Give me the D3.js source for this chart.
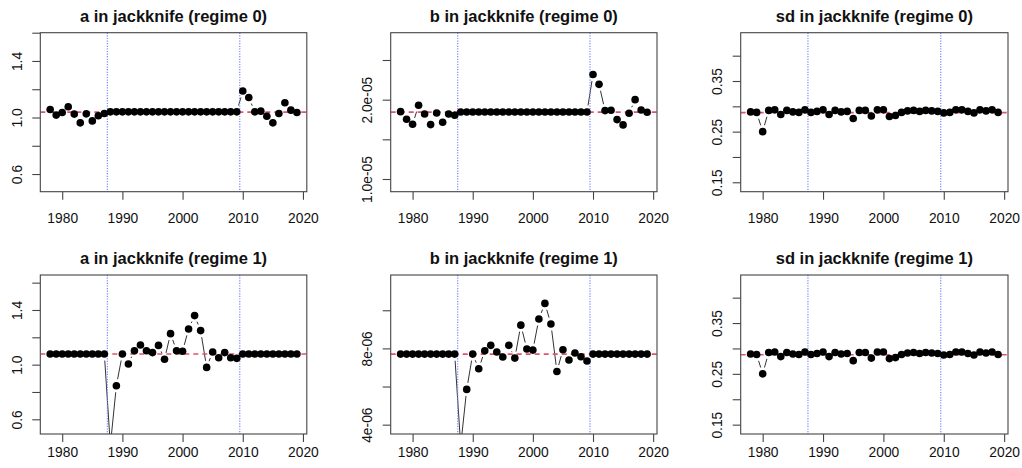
<!DOCTYPE html>
<html>
<head>
<meta charset="utf-8">
<script src="https://cdn.jsdelivr.net/npm/d3@7"></script>
<style>
  html, body { margin: 0; padding: 0; background: #fff; }
  svg { display: block; font-family: "Liberation Sans", Arial, Helvetica, sans-serif; }
</style>
</head>
<body>
<svg id="chart" width="1022" height="468"></svg>
<script>
// Jackknife estimates by left-out year
const years = [1978,1979,1980,1981,1982,1983,1984,1985,1986,1987,
  1988,1989,1990,1991,1992,1993,1994,1995,1996,1997,1998,1999,2000,
  2001,2002,2003,2004,2005,2006,2007,2008,2009,
  2010,2011,2012,2013,2014,2015,2016,2017,2018,2019];

const aRegime0 = [1.057,1.017,1.035,1.076,1.024,0.962,1.026,0.976,1.012,1.028,
  1.040,1.040,1.040,1.040,1.040,1.040,1.040,1.040,1.040,1.040,1.040,1.040,1.040,
  1.040,1.040,1.040,1.040,1.040,1.040,1.040,1.040,1.040,
  1.187,1.142,1.040,1.045,1.009,0.962,1.028,1.104,1.052,1.035];

const bRegime0 = [1.849e-5,1.753e-5,1.690e-5,1.929e-5,1.820e-5,1.686e-5,1.832e-5,1.715e-5,1.820e-5,1.803e-5,
  1.845e-5,1.845e-5,1.845e-5,1.845e-5,1.845e-5,1.845e-5,1.845e-5,1.845e-5,1.845e-5,1.845e-5,1.845e-5,1.845e-5,1.845e-5,
  1.845e-5,1.845e-5,1.845e-5,1.845e-5,1.845e-5,1.845e-5,1.845e-5,1.845e-5,1.845e-5,
  2.318e-5,2.193e-5,1.862e-5,1.866e-5,1.749e-5,1.682e-5,1.828e-5,2.000e-5,1.870e-5,1.841e-5];

const sdRegime0 = [0.289,0.288,0.250,0.292,0.293,0.284,0.292,0.289,0.288,0.293,
  0.288,0.290,0.293,0.284,0.292,0.289,0.290,0.276,0.292,0.292,0.281,0.293,0.293,
  0.280,0.282,0.288,0.291,0.292,0.290,0.292,0.291,0.290,
  0.287,0.288,0.293,0.293,0.290,0.287,0.293,0.291,0.293,0.288];

const aRegime1 = [1.078,1.078,1.078,1.078,1.078,1.078,1.078,1.078,1.078,1.078,
  0.410,0.846,1.078,1.005,1.102,1.144,1.102,1.088,1.141,1.039,1.227,1.102,1.098,
  1.261,1.359,1.249,0.980,1.093,1.051,1.088,1.051,1.046,
  1.078,1.078,1.078,1.078,1.078,1.078,1.078,1.078,1.078,1.078];

const bRegime1 = [7.70e-6,7.70e-6,7.70e-6,7.70e-6,7.70e-6,7.70e-6,7.70e-6,7.70e-6,7.70e-6,7.70e-6,
  2.90e-6,5.85e-6,7.70e-6,6.93e-6,7.88e-6,8.16e-6,7.81e-6,7.55e-6,8.16e-6,7.49e-6,9.22e-6,7.97e-6,7.91e-6,
  9.54e-6,1.036e-5,9.28e-6,6.79e-6,7.93e-6,7.39e-6,7.76e-6,7.56e-6,7.34e-6,
  7.70e-6,7.70e-6,7.70e-6,7.70e-6,7.70e-6,7.70e-6,7.70e-6,7.70e-6,7.70e-6,7.70e-6];

const sdRegime1 = [0.289,0.288,0.250,0.292,0.293,0.284,0.292,0.289,0.288,0.293,
  0.288,0.290,0.293,0.284,0.292,0.289,0.290,0.276,0.292,0.292,0.281,0.293,0.293,
  0.280,0.282,0.288,0.291,0.292,0.290,0.292,0.291,0.290,
  0.287,0.288,0.293,0.293,0.290,0.287,0.293,0.291,0.293,0.288];

// Full-sample estimates (horizontal reference lines)
const fullEstimates = [1.038, 1.843e-5, 0.2876, 1.078, 7.70e-6, 0.2876];

// Regime break positions
const regimeBreaks = [1987.5, 2009.5];

// Axis ticks
const xTicks = [1980, 1990, 2000, 2010, 2020];
const aTicks = [0.6, 0.8, 1.0, 1.2, 1.4, 1.6];
const aTickLabels = ["0.6", "", "1.0", "", "1.4", ""];
const b0Ticks = [1.0e-5, 1.5e-5, 2.0e-5, 2.5e-5];
const b0TickLabels = ["1.0e-05", "", "2.0e-05", ""];
const b1Ticks = [4e-6, 6e-6, 8e-6, 1e-5];
const b1TickLabels = ["4e-06", "", "8e-06", ""];
const sdTicks = [0.15, 0.20, 0.25, 0.30, 0.35, 0.40];
const sdTickLabels = ["0.15", "", "0.25", "", "0.35", ""];

const titles = [
  "a in jackknife (regime 0)", "b in jackknife (regime 0)", "sd in jackknife (regime 0)",
  "a in jackknife (regime 1)", "b in jackknife (regime 1)", "sd in jackknife (regime 1)"
];
const seriesList = [aRegime0, bRegime0, sdRegime0, aRegime1, bRegime1, sdRegime1];
const tickSets = [
  [aTicks, aTickLabels], [b0Ticks, b0TickLabels], [sdTicks, sdTickLabels],
  [aTicks, aTickLabels], [b1Ticks, b1TickLabels], [sdTicks, sdTickLabels]
];

// Plot regions (pixel boxes) and y ranges
const columnsX = [[40.3, 306.8], [390.7, 657.0], [740.7, 1008.0]];
const rowsY = [[32.7, 191.7], [275.0, 434.0]];
const xLabelOffset = [31, 22.7];
const yDomains = [
  [0.475, 1.600], [0.84e-5, 2.844e-5], [0.1314, 0.4454],
  [0.4925, 1.656], [3.51e-6, 1.185e-5], [0.1316, 0.4446]
];
const xDomain = [1976.36, 2020.64];

const FONT = 13.8;
const TITLE_FONT = 16.5;
const POINT_R = 3.8;
const LINE_GAP = 6.6;

const svg = d3.select("#chart");

seriesList.forEach((values, i) => {
  const row = Math.floor(i / 3);
  const [xa, xb] = columnsX[i % 3];
  const [ya, yb] = rowsY[row];
  const x = d3.scaleLinear().domain(xDomain).range([xa, xb]);
  const y = d3.scaleLinear().domain(yDomains[i]).range([yb, ya]);
  const [tv, tl] = tickSets[i];

  const g = svg.append("g");
  const clipId = "clip" + i;
  g.append("clipPath").attr("id", clipId)
    .append("rect").attr("x", xa).attr("y", ya).attr("width", xb - xa).attr("height", yb - ya);
  const plot = g.append("g").attr("clip-path", `url(#${clipId})`);

  // type "b": connecting segments broken around each point
  const pts = years.map((yr, k) => [x(yr), y(values[k])]);
  const segs = [];
  for (let k = 0; k < pts.length - 1; k++) {
    const [x0, y0] = pts[k], [x1, y1] = pts[k + 1];
    const dx = x1 - x0, dy = y1 - y0, d = Math.hypot(dx, dy);
    if (d > 2 * LINE_GAP) {
      const f = LINE_GAP / d;
      segs.push([x0 + dx * f, y0 + dy * f, x1 - dx * f, y1 - dy * f]);
    }
  }
  plot.selectAll("line.seg").data(segs).join("line").attr("class", "seg")
    .attr("x1", s => s[0]).attr("y1", s => s[1]).attr("x2", s => s[2]).attr("y2", s => s[3])
    .attr("stroke", "#333").attr("stroke-width", 1);

  // full-sample reference
  plot.append("line")
    .attr("x1", xa).attr("x2", xb)
    .attr("y1", y(fullEstimates[i])).attr("y2", y(fullEstimates[i]))
    .attr("stroke", "#DF536B").attr("stroke-width", 1.6).attr("stroke-dasharray", "5 4");

  // regime breaks
  plot.selectAll("line.brk").data(regimeBreaks).join("line").attr("class", "brk")
    .attr("x1", d => x(d)).attr("x2", d => x(d))
    .attr("y1", ya).attr("y2", yb)
    .attr("stroke", "#7a88ff").attr("stroke-width", 1.2).attr("stroke-dasharray", "1.2 1.4");

  // points
  plot.selectAll("circle").data(years).join("circle")
    .attr("cx", (yr) => x(yr)).attr("cy", (yr, k) => y(values[k]))
    .attr("r", POINT_R).attr("fill", "#000");

  // x axis
  const xAxis = g.append("g").attr("transform", `translate(0,${yb})`)
    .call(d3.axisBottom(x).tickValues(xTicks).tickFormat(d3.format("d")).tickSize(8));
  xAxis.select(".domain").remove();
  xAxis.selectAll(".tick line").attr("stroke", "#444").attr("stroke-width", 1.1);
  xAxis.selectAll(".tick text")
    .attr("y", xLabelOffset[row]).attr("dy", 0).attr("fill", "#111")
    .attr("font-size", FONT).attr("font-family", null);

  // y axis
  const yAxis = g.append("g").attr("transform", `translate(${xa},0)`)
    .call(d3.axisLeft(y).tickValues(tv).tickFormat((d, k) => tl[k]).tickSize(8));
  yAxis.select(".domain").remove();
  yAxis.selectAll(".tick line").attr("stroke", "#444").attr("stroke-width", 1.1);
  yAxis.selectAll(".tick text")
    .attr("transform", "rotate(-90)")
    .attr("x", 0).attr("y", -18.6).attr("dy", 0)
    .attr("text-anchor", "middle").attr("fill", "#111")
    .attr("font-size", FONT).attr("font-family", null);

  // box
  g.append("rect").attr("x", xa).attr("y", ya).attr("width", xb - xa).attr("height", yb - ya)
    .attr("fill", "none").attr("stroke", "#444").attr("stroke-width", 1.1);

  // title
  g.append("text")
    .attr("x", (xa + xb) / 2).attr("y", ya - 10.6)
    .attr("text-anchor", "middle").attr("font-weight", "bold")
    .attr("font-size", TITLE_FONT).attr("fill", "#111")
    .text(titles[i]);
});
</script>
</body>
</html>
